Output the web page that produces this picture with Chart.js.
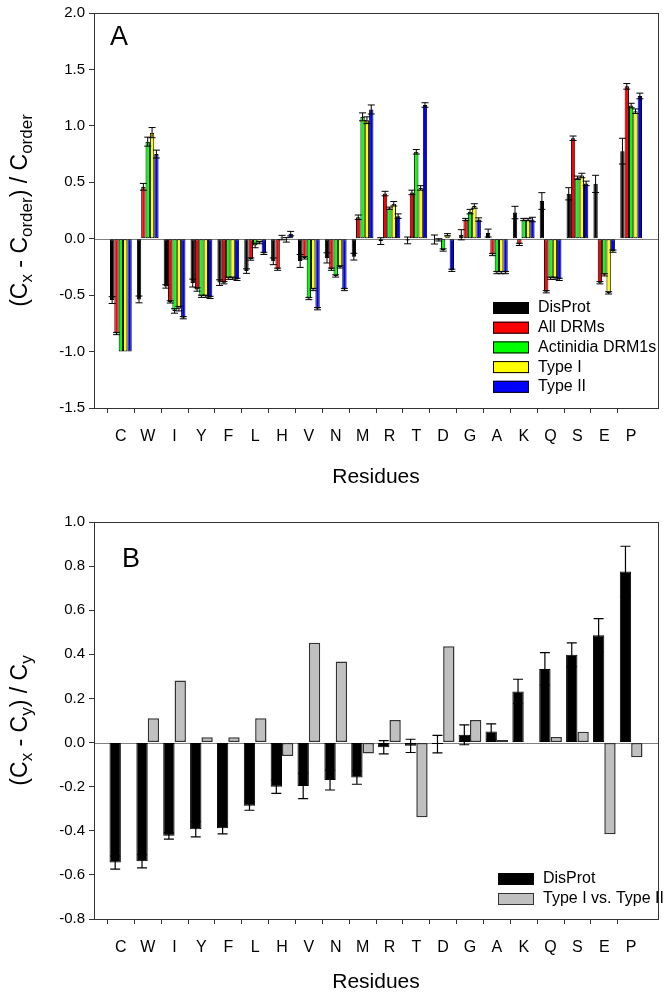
<!DOCTYPE html>
<html>
<head>
<meta charset="utf-8">
<script src="https://cdn.jsdelivr.net/npm/chart.js@4.4.1/dist/chart.umd.min.js"></script>
<style>
  html, body { margin: 0; padding: 0; background: #fff; }
  #wrap { position: relative; width: 672px; height: 994px; }
  canvas { position: absolute; left: 0; }
  #chartA { top: 0; }
  #chartB { top: 497px; }
</style>
</head>
<body>
<div id="wrap">
  <canvas id="chartA" width="672" height="497"></canvas>
  <canvas id="chartB" width="672" height="497"></canvas>
</div>
<script>
const residues = ['C', 'W', 'I', 'Y', 'F', 'L', 'H', 'V', 'N', 'M', 'R', 'T', 'D', 'G', 'A', 'K', 'Q', 'S', 'E', 'P'];

// panel A series + error bars
const disprot = [-0.544, -0.538, -0.423, -0.393, -0.389, -0.287, -0.200, -0.197, -0.170, -0.159, -0.021, -0.015, -0.007, 0.035, 0.050, 0.232, 0.334, 0.398, 0.486, 0.776];
const disprotErr = [0.03, 0.03, 0.015, 0.035, 0.025, 0.02, 0.03, 0.057, 0.045, 0.03, 0.03, 0.03, 0.04, 0.045, 0.035, 0.055, 0.074, 0.054, 0.076, 0.114];
const allDrms = [-0.84, 0.46, -0.56, -0.45, -0.39, -0.18, -0.27, -0.17, -0.27, 0.19, 0.40, 0.41, -0.01, 0.17, -0.14, -0.05, -0.47, 0.89, -0.39, 1.35];
const allDrmsErr = [0.01, 0.03, 0.01, 0.015, 0.01, 0.01, 0.01, 0.01, 0.01, 0.02, 0.02, 0.02, 0.01, 0.01, 0.01, 0.01, 0.01, 0.02, 0.01, 0.025];
const actinidia = [-1.0, 0.86, -0.64, -0.51, -0.35, -0.06, 0.01, -0.53, -0.33, 1.08, 0.27, 0.77, -0.10, 0.24, -0.30, 0.17, -0.35, 0.54, -0.32, 1.18];
const actinidiaErr = [0, 0.04, 0.02, 0.01, 0.01, 0.02, 0.02, 0.01, 0.01, 0.035, 0.01, 0.02, 0.01, 0.02, 0.01, 0.01, 0.01, 0.015, 0.01, 0.02];
const typeI = [-1.0, 0.94, -0.62, -0.51, -0.35, -0.035, -0.01, -0.45, -0.25, 1.05, 0.31, 0.45, 0.035, 0.29, -0.30, 0.17, -0.35, 0.56, -0.48, 1.13];
const typeIErr = [0, 0.045, 0.02, 0.01, 0.01, 0.01, 0.02, 0.01, 0.01, 0.03, 0.02, 0.02, 0.01, 0.02, 0.01, 0.01, 0.01, 0.02, 0.01, 0.02];
const typeII = [-1.0, 0.75, -0.70, -0.52, -0.36, -0.13, 0.045, -0.62, -0.45, 1.145, 0.20, 1.185, -0.28, 0.17, -0.30, 0.17, -0.36, 0.49, -0.11, 1.265];
const typeIIErr = [0, 0.035, 0.01, 0.01, 0.01, 0.01, 0.02, 0.01, 0.01, 0.04, 0.02, 0.02, 0.01, 0.015, 0.01, 0.02, 0.01, 0.02, 0.01, 0.025];

// panel B: Type I vs Type II
const typeIvsII = [0, 0.110, 0.281, 0.024, 0.024, 0.110, -0.061, 0.453, 0.367, -0.050, 0.102, -0.339, 0.437, 0.102, 0.012, 0.002, 0.025, 0.049, -0.416, -0.067];

Chart.defaults.font.family = "'Liberation Sans', Arial, sans-serif";
Chart.defaults.color = '#000';

// one empty slot at each end so the axis has a gap of one step before C and after P
const pad = arr => [null, ...arr, null];
const labels = pad(residues).map(v => v || '');

function bars(label, values, errors, color, border, bw, catPct) {
  return {
    label: label,
    data: pad(values),
    errors: errors ? pad(errors) : null,
    backgroundColor: color,
    borderColor: border,
    borderWidth: bw,
    borderSkipped: false,
    categoryPercentage: catPct,
    barPercentage: 1.0
  };
}

// error bars, frame, zero line, titles, legend
const decor = {
  id: 'decor',
  beforeDatasetsDraw(chart) {
    const ctx = chart.ctx, a = chart.chartArea;
    const y0 = chart.scales.y.getPixelForValue(0);
    ctx.save();
    ctx.strokeStyle = '#808080';
    ctx.lineWidth = 1;
    ctx.beginPath();
    ctx.moveTo(a.left, Math.round(y0) + 0.5);
    ctx.lineTo(a.right, Math.round(y0) + 0.5);
    ctx.stroke();
    ctx.restore();
  },
  afterDatasetsDraw(chart, args, opts) {
    const ctx = chart.ctx, ys = chart.scales.y;
    ctx.save();
    ctx.strokeStyle = '#000';
    ctx.lineWidth = opts.errWidth;
    chart.data.datasets.forEach((ds, i) => {
      if (!ds.errors) return;
      chart.getDatasetMeta(i).data.forEach((bar, j) => {
        const v = ds.data[j], e = ds.errors[j];
        if (v == null || !e) return;
        const x = bar.x, h = opts.cap / 2;
        const y1 = ys.getPixelForValue(v - e), y2 = ys.getPixelForValue(v + e);
        ctx.beginPath();
        ctx.moveTo(x, y1); ctx.lineTo(x, y2);
        ctx.moveTo(x - h, y1); ctx.lineTo(x + h, y1);
        ctx.moveTo(x - h, y2); ctx.lineTo(x + h, y2);
        ctx.stroke();
      });
    });
    ctx.restore();
  },
  afterDraw(chart, args, opts) {
    const ctx = chart.ctx, a = chart.chartArea;
    ctx.save();
    // frame
    ctx.strokeStyle = '#333';
    ctx.lineWidth = 1;
    ctx.strokeRect(Math.round(a.left) + 0.5, Math.round(a.top) + 0.5, Math.round(a.right - a.left), Math.round(a.bottom - a.top));

    // panel letter
    ctx.fillStyle = '#000';
    ctx.font = "27px 'Liberation Sans', Arial, sans-serif";
    ctx.textAlign = 'center';
    ctx.textBaseline = 'middle';
    ctx.fillText(opts.letter, opts.letterX, opts.letterY);

    // x title
    ctx.font = "21px 'Liberation Sans', Arial, sans-serif";
    ctx.fillText('Residues', (a.left + a.right) / 2, opts.xTitleY);

    // y title with subscripts, rotated
    const big = "23px 'Liberation Sans', Arial, sans-serif";
    const small = "17px 'Liberation Sans', Arial, sans-serif";
    let total = 0;
    opts.yTitle.forEach(p => { ctx.font = p[1] ? small : big; total += ctx.measureText(p[0]).width; });
    ctx.translate(opts.yTitleX, (a.top + a.bottom) / 2);
    ctx.rotate(-Math.PI / 2);
    ctx.textAlign = 'left';
    ctx.textBaseline = 'alphabetic';
    let x = -total / 2;
    opts.yTitle.forEach(p => {
      ctx.font = p[1] ? small : big;
      ctx.fillText(p[0], x, p[1] ? 12 : 7);
      x += ctx.measureText(p[0]).width;
    });
    ctx.setTransform(1, 0, 0, 1, 0, 0);

    // legend
    ctx.font = "16px 'Liberation Sans', Arial, sans-serif";
    ctx.textAlign = 'left';
    ctx.textBaseline = 'middle';
    chart.data.datasets.forEach((ds, i) => {
      const cy = opts.legendY + i * opts.legendStep;
      ctx.fillStyle = ds.backgroundColor;
      ctx.fillRect(opts.legendX, cy - 6, 36, 12);
      ctx.strokeStyle = ds.borderColor;
      ctx.lineWidth = 1;
      ctx.strokeRect(opts.legendX + 0.5, cy - 5.5, 35, 11);
      ctx.fillStyle = '#000';
      ctx.fillText(ds.label, opts.legendX + 45, cy);
    });
    ctx.restore();
  }
};

function xScale(height) {
  return {
    offset: false,
    grid: {
      drawOnChartArea: false,
      drawTicks: true,
      tickLength: 5,
      color: c => (c.index === 0 || c.index === labels.length - 1) ? 'rgba(0,0,0,0)' : '#333'
    },
    border: { display: false },
    ticks: { font: { size: 16 }, padding: 14, autoSkip: false, maxRotation: 0 },
    afterFit: s => { s.height = height; }
  };
}

function yScale(min, max, step) {
  return {
    min: min,
    max: max,
    grid: { drawOnChartArea: false, drawTicks: true, tickLength: 5, color: '#333' },
    border: { display: false },
    ticks: { stepSize: step, font: { size: 15 }, padding: 4, callback: v => v.toFixed(1) },
    afterFit: s => { s.width = 94; }
  };
}

new Chart(document.getElementById('chartA'), {
  type: 'bar',
  data: {
    labels: labels,
    datasets: [
      bars('DisProt', disprot, disprotErr, '#000000', '#000', 1, 0.81),
      bars('All DRMs', allDrms, allDrmsErr, '#ff0000', '#000', 1, 0.81),
      bars('Actinidia DRM1s', actinidia, actinidiaErr, '#00ff00', '#000', 1, 0.81),
      bars('Type I', typeI, typeIErr, '#ffff00', '#000', 1, 0.81),
      bars('Type II', typeII, typeIIErr, '#0000ff', '#000', 1, 0.81)
    ]
  },
  options: {
    responsive: false,
    animation: false,
    devicePixelRatio: 1,
    layout: { padding: { top: 11, right: 6, left: 0, bottom: 0 } },
    plugins: {
      legend: { display: false },
      tooltip: { enabled: false },
      decor: {
        letter: 'A', letterX: 119, letterY: 38,
        xTitleY: 477, yTitleX: 20,
        yTitle: [['(C', 0], ['x', 1], [' - C', 0], ['order', 1], [') / C', 0], ['order', 1]],
        legendX: 493, legendY: 308, legendStep: 19.7,
        cap: 7, errWidth: 1
      }
    },
    scales: { x: xScale(89), y: yScale(-1.5, 2.0, 0.5) }
  },
  plugins: [decor]
});

new Chart(document.getElementById('chartB'), {
  type: 'bar',
  data: {
    labels: labels,
    datasets: [
      bars('DisProt', disprot, disprotErr, '#000000', '#000', 1, 0.845),
      bars('Type I vs. Type II', typeIvsII, null, '#c0c0c0', '#333', 1.5, 0.845)
    ]
  },
  options: {
    responsive: false,
    animation: false,
    devicePixelRatio: 1,
    layout: { padding: { top: 25, right: 6, left: 0, bottom: 0 } },
    plugins: {
      legend: { display: false },
      tooltip: { enabled: false },
      decor: {
        letter: 'B', letterX: 131, letterY: 63,
        xTitleY: 485, yTitleX: 20,
        yTitle: [['(C', 0], ['x', 1], [' - C', 0], ['y', 1], [') / C', 0], ['y', 1]],
        legendX: 498, legendY: 382, legendStep: 20,
        cap: 10, errWidth: 1.2
      }
    },
    scales: { x: xScale(75), y: yScale(-0.8, 1.0, 0.2) }
  },
  plugins: [decor]
});
</script>
</body>
</html>
